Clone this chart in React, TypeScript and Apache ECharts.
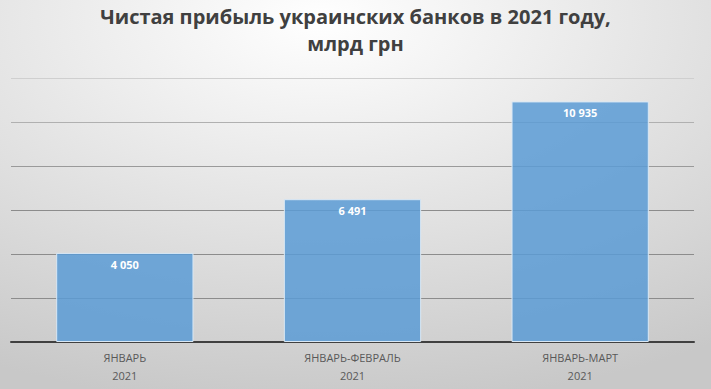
import React, { useEffect, useRef } from "react";
import * as echarts from "echarts";

const categories = ["ЯНВАРЬ\n2021", "ЯНВАРЬ-ФЕВРАЛЬ\n2021", "ЯНВАРЬ-МАРТ\n2021"];
const values = [4050, 6491, 10935];
const titleText = "Чистая прибыль украинских банков в 2021 году,\nмлрд грн";

const fmt = (v: number) => String(v).replace(/\B(?=(\d{3})+(?!\d))/g, " ");

export default function App() {
  const ref = useRef<HTMLDivElement>(null);
  useEffect(() => {
    document.body.style.margin = "0";
    const chart = echarts.init(ref.current!, null, { renderer: "svg" });
    chart.setOption({
      animation: false,
      backgroundColor: {
        type: "radial",
        x: 0.45,
        y: 0.05,
        r: 1.0,
        colorStops: [
          { offset: 0, color: "#ffffff" },
          { offset: 1, color: "#c8c8c8" },
        ],
      },
      title: {
        text: titleText,
        left: "center",
        top: -2,
        textStyle: {
          fontFamily: "Open Sans",
          fontWeight: "bold",
          fontSize: 20,
          color: "#404040",
          lineHeight: 27,
        },
      },
      grid: { left: 11, right: 17, top: 78, bottom: 47 },
      xAxis: {
        type: "category",
        data: categories,
        axisLine: { lineStyle: { color: "#404040", width: 2 } },
        axisTick: { show: false },
        axisLabel: {
          color: "#595959",
          fontFamily: "Open Sans",
          fontSize: 11,
          lineHeight: 18,
          margin: 6,
        },
      },
      yAxis: {
        type: "value",
        min: 0,
        max: 12000,
        interval: 2000,
        axisLabel: { show: false },
        axisLine: { show: false },
        axisTick: { show: false },
        splitLine: {
          lineStyle: {
            color: ["#8c8c8c", "#8c8c8c", "#8c8c8c", "#8c8c8c", "#9a9a9a", "#b0b0b0", "#cfcfcf"],
            width: 1,
          },
        },
      },
      series: [
        {
          type: "bar",
          data: values,
          barWidth: "60.3%",
          itemStyle: {
            color: "rgba(91,155,213,0.85)",
            borderColor: "#d9e8f5",
            borderWidth: 1,
          },
          label: {
            show: true,
            position: "insideTop",
            distance: 6,
            color: "#ffffff",
            fontWeight: "bold",
            fontFamily: "Open Sans",
            fontSize: 11,
            formatter: (p: any) => fmt(p.value),
          },
        },
      ],
    });
    return () => chart.dispose();
  }, []);
  return <div ref={ref} style={{ width: 711, height: 389 }} />;
}
